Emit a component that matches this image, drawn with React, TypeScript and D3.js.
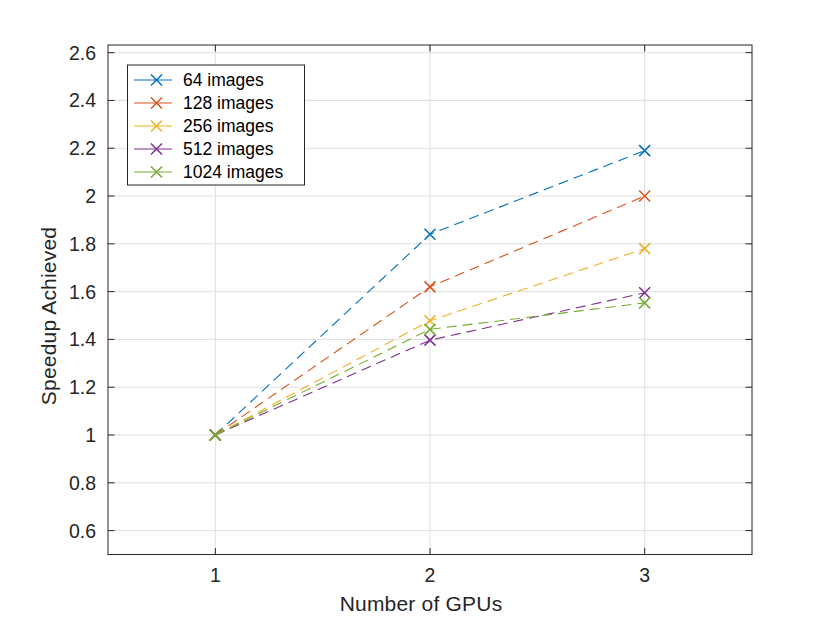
import React from "react";
import * as d3 from "d3";

const gpus = [1, 2, 3];
const seriesNames = ["64 images", "128 images", "256 images", "512 images", "1024 images"];
const s64 = [1, 1.84, 2.19];
const s128 = [1, 1.62, 2.0];
const s256 = [1, 1.478, 1.78];
const s512 = [1, 1.397, 1.595];
const s1024 = [1, 1.442, 1.553];
const seriesValues = [s64, s128, s256, s512, s1024];
const colors = ["#0072BD", "#D95319", "#EDB120", "#7E2F8E", "#77AC30"];
const xTicks = [1, 2, 3];
const yTicks = [0.6, 0.8, 1, 1.2, 1.4, 1.6, 1.8, 2, 2.2, 2.4, 2.6];

const W = 830, H = 623;
const L = 108, R = 752, T = 45, B = 554.5;
const FONT = "'Liberation Sans', Arial, Helvetica, sans-serif";
const AX = "#262626";

export default function App() {
  const x = d3.scaleLinear().domain([0.5, 3.5]).range([L, R]);
  const y = d3.scaleLinear().domain([0.5, 2.632]).range([B, T]);
  const line = d3.line<number>().x((_, i) => x(gpus[i])).y((d) => y(d));
  const cross = (cx: number, cy: number, c: string, s = 5.5, key?: any) => (
    <path key={key} d={`M${cx - s},${cy - s}L${cx + s},${cy + s}M${cx - s},${cy + s}L${cx + s},${cy - s}`} stroke={c} strokeWidth={1.5} fill="none" />
  );
  const legX = 127.5, legY = 65, legW = 177, legH = 120;
  return (
    <svg width={W} height={H} style={{ position: "absolute", left: 0, top: 0, background: "#fff" }} fontFamily={FONT}>
      <rect x={0} y={0} width={W} height={H} fill="#fff" />
      {xTicks.map((t) => (
        <line key={"gx" + t} x1={x(t)} x2={x(t)} y1={T} y2={B} stroke="#dfdfdf" strokeWidth={1} />
      ))}
      {yTicks.map((t) => (
        <line key={"gy" + t} x1={L} x2={R} y1={y(t)} y2={y(t)} stroke="#dfdfdf" strokeWidth={1} />
      ))}
      {xTicks.map((t) => (
        <g key={"tx" + t}>
          <line x1={x(t)} x2={x(t)} y1={B} y2={B - 6.5} stroke={AX} strokeWidth={1} />
          <line x1={x(t)} x2={x(t)} y1={T} y2={T + 6.5} stroke={AX} strokeWidth={1} />
          <text x={x(t)} y={582} textAnchor="middle" fontSize={19.5} fill={AX}>{t}</text>
        </g>
      ))}
      {yTicks.map((t) => (
        <g key={"ty" + t}>
          <line x1={L} x2={L + 6.5} y1={y(t)} y2={y(t)} stroke={AX} strokeWidth={1} />
          <line x1={R} x2={R - 6.5} y1={y(t)} y2={y(t)} stroke={AX} strokeWidth={1} />
          <text x={96} y={y(t) + 7} textAnchor="end" fontSize={19.5} fill={AX}>{String(+t.toFixed(1))}</text>
        </g>
      ))}
      {seriesValues.map((vals, si) => (
        <g key={"s" + si}>
          <path d={line(vals) || ""} fill="none" stroke={colors[si]} strokeWidth={1.1} strokeDasharray="10,6" />
          {vals.map((v, i) => cross(x(gpus[i]), y(v), colors[si], 5.5, i))}
        </g>
      ))}
      <rect x={L} y={T} width={R - L} height={B - T} fill="none" stroke={AX} strokeWidth={1} />
      <rect x={legX} y={legY} width={legW} height={legH} fill="#fff" stroke={AX} strokeWidth={1} />
      {seriesNames.map((n, i) => {
        const ly = 80 + i * 23;
        return (
          <g key={"l" + i}>
            <line x1={134} x2={172} y1={ly} y2={ly} stroke={colors[i]} strokeWidth={1.1} />
            {cross(156.5, ly, colors[i], 5.5)}
            <text x={183} y={ly + 6} fontSize={17.5} fill="#000">{n}</text>
          </g>
        );
      })}
      <text x={421} y={611} textAnchor="middle" fontSize={21} letterSpacing={0.2} fill={AX}>Number of GPUs</text>
      <text transform={`translate(56,316) rotate(-90)`} textAnchor="middle" fontSize={21} letterSpacing={0.2} fill={AX}>Speedup Achieved</text>
    </svg>
  );
}
